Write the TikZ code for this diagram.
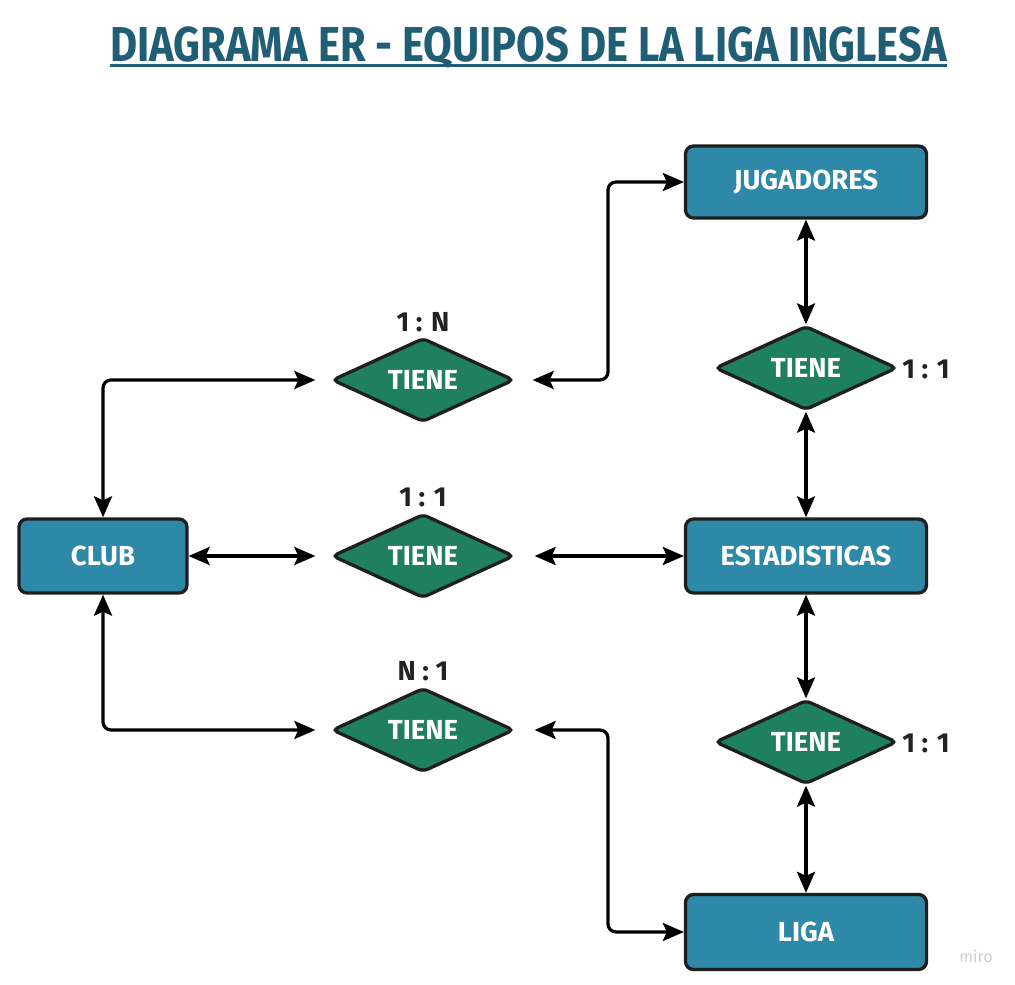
\documentclass[tikz,border=0pt]{standalone}
\usepackage{fontspec}
\newfontfamily\cond[FakeStretch=0.85]{Fira Sans}
\newfontfamily\bodyf{Fira Sans}
\usetikzlibrary{shapes.geometric,arrows.meta}
\definecolor{boxfill}{RGB}{46,137,168}
\definecolor{relfill}{RGB}{31,128,96}
\definecolor{titlec}{RGB}{31,94,117}
\definecolor{edge}{RGB}{30,30,30}
\definecolor{labc}{RGB}{34,34,34}
\tikzset{
  entity/.style={draw=edge, line width=3.3pt, fill=boxfill, rounded corners=8pt,
    minimum width=241pt, minimum height=72pt, inner sep=0pt,
    text=white, font=\bodyf\bfseries\fontsize{27.5}{30}\selectfont},
  rel/.style={diamond, draw=edge, line width=3.3pt, fill=relfill, rounded corners=5pt,
    aspect=2.15, minimum width=182pt, minimum height=84pt, inner sep=0pt,
    text=white, font=\bodyf\bfseries\fontsize{27.5}{30}\selectfont},
  card/.style={text=labc, inner sep=0pt, font=\bodyf\bfseries\fontsize{27.5}{30}\selectfont},
  arr/.style={line width=3.2pt, draw=black, rounded corners=8pt,
    {Stealth[length=21pt,width=18pt,inset=4pt]}-{Stealth[length=21pt,width=18pt,inset=4pt]}},
}
\begin{document}
\begin{tikzpicture}[x=1pt,y=-1pt]
\useasboundingbox (0,0) rectangle (1015,985);
% title
\node[anchor=base, inner sep=0pt, text=titlec, font=\cond\bfseries\fontsize{49}{52}\selectfont] (title) at (528.5,61) {DIAGRAMA ER - EQUIPOS DE LA LIGA INGLESA};
\draw[titlec, line width=3pt] ([yshift=-4.5pt]title.base west) -- ([yshift=-4.5pt]title.base east);
% entities
\node[entity] (jug) at (806,182) {JUGADORES};
\node[entity, minimum width=168pt, minimum height=74pt] (club) at (103,556) {CLUB};
\node[entity, minimum height=74pt] (est) at (806,556) {ESTADISTICAS};
\node[entity, minimum height=75pt] (liga) at (806,932) {LIGA};
% relations
\node[rel] (r1) at (423,380) {TIENE};
\node[rel] (r2) at (423,556) {TIENE};
\node[rel] (r3) at (423,730) {TIENE};
\node[rel] (r4) at (806,368) {TIENE};
\node[rel] (r5) at (806,742) {TIENE};
% cardinalities
\node[card] (c1) at (423,322) {1 : N};
\node[card] (c2) at (423,497) {1 : 1};
\node[card] (c3) at (423,671) {N : 1};
\node[card] (c4) at (926,369) {1 : 1};
\node[card] (c5) at (926,743) {1 : 1};
% watermark
\node[text={rgb,255:red,205;green,205;blue,215}, font=\bodyf\fontsize{16}{18}\selectfont] (miro) at (976,956) {miro};
% bend coordinates
\coordinate (m1) at (608,380);
\coordinate (m3) at (608,730);
% connectors
\draw[arr] (club.north) |- ([xshift=-15pt]r1.west);
\draw[arr] ([xshift=17pt]r1.east) -- (m1) |- (jug.west);
\draw[arr] (club.east) -- ([xshift=-15pt]r2.west);
\draw[arr] ([xshift=19pt]r2.east) -- (est.west);
\draw[arr] (club.south) |- ([xshift=-15pt]r3.west);
\draw[arr] ([xshift=19pt]r3.east) -- (m3) |- (liga.west);
\draw[arr] (jug.south) -- (r4.north);
\draw[arr] (r4.south) -- (est.north);
\draw[arr] (est.south) -- (r5.north);
\draw[arr] (r5.south) -- (liga.north);
\end{tikzpicture}
\end{document}
